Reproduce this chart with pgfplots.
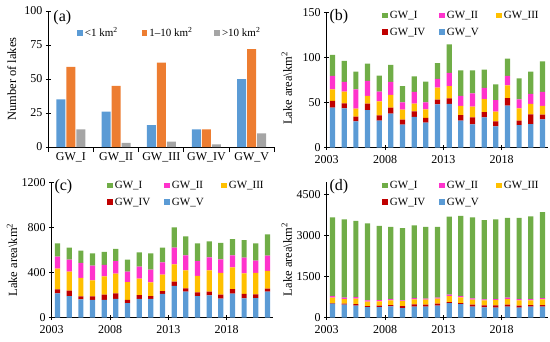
\documentclass[border=0pt]{standalone}
\usepackage{fontspec}
\setmainfont{Liberation Serif}
\usepackage{pgfplots}
\pgfplotsset{compat=1.18}
\usepackage{pgfplotstable}

\definecolor{cblue}{HTML}{5B9BD5}
\definecolor{corange}{HTML}{ED7D31}
\definecolor{cgray}{HTML}{A5A5A5}
\definecolor{cgreen}{HTML}{70AD47}
\definecolor{cmag}{HTML}{FF33CC}
\definecolor{cyel}{HTML}{FFC000}
\definecolor{cred}{HTML}{C00000}

\pgfplotstableread{
x small mid large
0 35 59 13
1 26 45 3
2 16 62 4
3 13 13 2
4 50 72 10
}\taba

% year index: 0 = 2003 ... 18 = 2021
\pgfplotstableread{
x V IV III II I
0 44.3 7.4 12.9 14.8 23.3
1 43.6 5.4 13.0 10.8 23.2
2 29.2 5.2 8.8 21.4 19.6
3 41.7 7.1 8.5 16.6 19.1
4 29.9 5.9 15.5 10.7 17.8
5 37.7 6.6 14.1 14.4 18.8
6 25.5 5.5 11.1 8.1 18.1
7 34.0 6.3 8.5 12.9 17.3
8 27.7 5.2 9.6 7.7 22.9
9 48.0 5.2 13.3 9.6 17.4
10 48.4 6.3 13.6 14.4 31.8
11 29.9 6.3 10.0 11.1 28.4
12 25.9 7.7 11.8 14.8 25.5
13 33.6 5.9 14.4 12.2 20.3
14 23.6 5.6 10.7 12.9 17.4
15 46.5 8.5 14.1 10.3 19.2
16 25.1 4.8 13.7 10.0 23.2
17 26.2 10.7 11.5 11.1 24.7
18 31.4 5.2 9.6 15.5 34.0
}\tabb

\pgfplotstableread{
x V IV III II I
0 216 35 184 106 118
1 192 47 169 106 107
2 163 26 163 133 109
3 157 32 142 130 109
4 157 47 163 100 115
5 166 50 174 110 109
6 130 27 159 92 106
7 166 35 145 106 127
8 166 26 121 113 144
9 210 26 145 110 130
10 281 38 154 148 180
11 231 29 160 133 168
12 192 33 145 130 159
13 198 33 189 115 142
14 168 36 192 121 145
15 213 41 192 107 142
16 171 39 183 139 154
17 174 33 189 109 154
18 231 26 157 136 189
}\tabc

\pgfplotstableread{
x V IV III II I
0 511 24 195 61 2872
1 475 36 170 49 2860
2 438 61 195 61 2786
3 389 36 158 49 2812
4 389 49 158 49 2714
5 414 49 170 49 2640
6 353 73 182 24 2642
7 402 85 182 49 2653
8 402 73 182 36 2629
9 438 73 182 36 2593
10 535 36 219 49 2849
11 499 36 207 49 2933
12 402 73 182 49 2957
13 377 73 182 36 2898
14 365 85 195 36 2909
15 402 73 207 49 2920
16 365 73 195 49 2969
17 402 61 170 49 3018
18 402 61 207 49 3139
}\tabd

\pgfplotsset{
  common/.style={
    scale only axis, axis lines*=left, clip=false,
    axis line style={black, line width=0.8pt},
    tick style={black, line width=0.8pt},
    tick align=center, major tick length=5pt,
    tick label style={font=\fontsize{12}{14}\selectfont},
    xticklabel style={yshift=-2pt},
    label style={font=\fontsize{12.5}{14}\selectfont},
    /pgf/number format/assume math mode=true,
    /pgf/number format/1000 sep={},
    scaled y ticks=false,
    ymin=0,
    legend cell align=left,
    legend style={draw=none, fill=none, inner sep=0pt, outer sep=0pt,
      font=\fontsize{11}{13}\selectfont},
  },
  stk/.style={
    common, width=221.6pt, height=135.5pt,
    xmin=-0.5, xmax=18.5,
    ybar stacked, bar width=5.2pt,
    xtick={-0.5,4.5,9.5,14.5}, xticklabels={2003,2008,2013,2018},
    legend columns=3,
    legend image code/.code={\fill[##1] (0pt,-2.8pt) rectangle (5.6pt,2.8pt);},
    legend style={at={(0.251,0.915)}, anchor=west, row sep=4pt,
      /tikz/column 2/.style={column sep=12pt},
      /tikz/column 4/.style={column sep=15.5pt}},
    ylabel={Lake area\textbackslash km\textsuperscript{2}},
  },
}

\newcommand\stackplots[1]{%
  \addlegendimage{fill=cgreen, draw=none}\addlegendentry{GW\_I}
  \addlegendimage{fill=cmag, draw=none}\addlegendentry{GW\_II}
  \addlegendimage{fill=cyel, draw=none}\addlegendentry{GW\_III}
  \addlegendimage{fill=cred, draw=none}\addlegendentry{GW\_IV}
  \addlegendimage{fill=cblue, draw=none}\addlegendentry{GW\_V}
  \addplot[fill=cblue, draw=none] table[x=x, y=V] {#1};
  \addplot[fill=cred, draw=none] table[x=x, y=IV] {#1};
  \addplot[fill=cyel, draw=none] table[x=x, y=III] {#1};
  \addplot[fill=cmag, draw=none] table[x=x, y=II] {#1};
  \addplot[fill=cgreen, draw=none] table[x=x, y=I] {#1};
}

\begin{document}
\begin{tikzpicture}
\useasboundingbox (0,0) rectangle (550pt,341pt);

% (a)
\begin{axis}[common, at={(48.3pt,194pt)}, anchor=south west,
  width=226pt, height=136pt,
  xmin=-0.5, xmax=4.5, ymax=100, ytick={0,25,50,75,100},
  xtick={-0.5,0.5,1.5,2.5,3.5,4.5}, xticklabels={,,,,,},
  extra x ticks={0,1,2,3,4},
  extra x tick labels={GW\_I,GW\_II,GW\_III,GW\_IV,GW\_V},
  extra x tick style={major tick length=0pt},
  ybar=1pt, bar width=9pt,
  legend columns=3,
  legend image code/.code={\fill[#1] (0pt,-2.8pt) rectangle (5.6pt,2.8pt);},
  legend style={at={(0.128,0.838)}, anchor=west,
    /tikz/column 2/.style={column sep=22pt},
    /tikz/column 4/.style={column sep=20pt}},
  ylabel={Number of lakes},
  ylabel style={at={(axis description cs:-0.162,0.5)}, anchor=center},
]
\addplot[fill=cblue, draw=none] table[x=x, y=small] {\taba};
\addlegendentry{<1 km\textsuperscript{2}}
\addplot[fill=corange, draw=none] table[x=x, y=mid] {\taba};
\addlegendentry{1--10 km\textsuperscript{2}}
\addplot[fill=cgray, draw=none] table[x=x, y=large] {\taba};
\addlegendentry{>10 km\textsuperscript{2}}
\node[anchor=west, inner sep=0pt, font=\fontsize{16}{18}\selectfont] at (axis description cs:0.022,0.952) {(a)};
\end{axis}

% (b)
\begin{axis}[stk, at={(326.7pt,193.3pt)}, anchor=south west,
  ymax=150, ytick={0,50,100,150},
  ylabel style={at={(axis description cs:-0.18,0.438)}, anchor=center},
]
\stackplots{\tabb}
\node[anchor=west, inner sep=0pt, font=\fontsize{16}{18}\selectfont] at (axis description cs:0.012,0.97) {(b)};
\end{axis}

% (c)
\begin{axis}[stk, at={(51.7pt,23.3pt)}, anchor=south west,
  ymax=1200, ytick={0,400,800,1200},
  ylabel style={at={(axis description cs:-0.179,0.426)}, anchor=center},
]
\stackplots{\tabc}
\node[anchor=west, inner sep=0pt, font=\fontsize{16}{18}\selectfont] at (axis description cs:0.012,0.97) {(c)};
\end{axis}

% (d)
\begin{axis}[stk, at={(326.7pt,23.3pt)}, anchor=south west,
  ymax=4950, ytick={0,1500,3000,4500},
  ylabel style={at={(axis description cs:-0.18,0.43)}, anchor=center},
]
\stackplots{\tabd}
\node[anchor=west, inner sep=0pt, font=\fontsize{16}{18}\selectfont] at (axis description cs:0.012,0.97) {(d)};
\end{axis}
\end{tikzpicture}
\end{document}
